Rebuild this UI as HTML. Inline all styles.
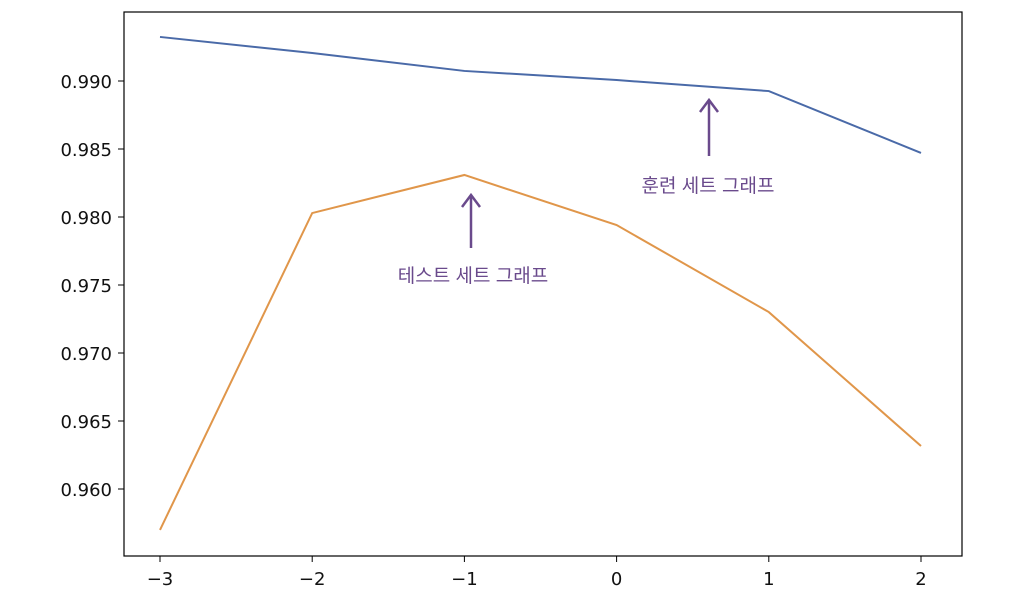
<!DOCTYPE html>
<html><head><meta charset="utf-8"><style>
body{margin:0;background:#fff;}
svg text{font-family:"DejaVu Sans","Liberation Sans",sans-serif;}
</style></head><body>
<svg id="chart" width="1024" height="609" xmlns="http://www.w3.org/2000/svg">
<rect x="0" y="0" width="1024" height="609" fill="#fff"/>
<g id="axes"></g>
<g id="lines"></g>
<g fill="#6a4a8c" stroke="#6a4a8c">
<line x1="709" y1="156" x2="709" y2="101" stroke-width="2.5"/>
<path d="M700 112 L709 100 L718 112" fill="none" stroke-width="2.5"/>
<text x="708" y="192" text-anchor="middle" font-size="19" stroke="none" style="font-family:'Liberation Sans','Noto Sans CJK KR',sans-serif">훈련 세트 그래프</text>
</g>
<g fill="#6a4a8c" stroke="#6a4a8c">
<line x1="471" y1="248" x2="471" y2="196" stroke-width="2.5"/>
<path d="M462 207 L471 195 L480 207" fill="none" stroke-width="2.5"/>
<text x="473" y="282" text-anchor="middle" font-size="19" stroke="none" style="font-family:'Liberation Sans','Noto Sans CJK KR',sans-serif">테스트 세트 그래프</text>
</g>
</svg>
<script>
const xValues=[-3,-2,-1,0,1,2];
const trainScores=[0.99324,0.99206,0.99074,0.99007,0.98926,0.98471];
const testScores=[0.95699,0.98029,0.98309,0.97941,0.97301,0.96316];
const yTicks=[0.960,0.965,0.970,0.975,0.980,0.985,0.990];
const xTicks=[-3,-2,-1,0,1,2];
const NS="http://www.w3.org/2000/svg";
const L=124,R=962,T=12,B=556;
function sx(v){return 160+(v+3)*152.2;}
function sy(v){return 81+(0.990-v)/0.005*68;}
function mk(tag,attrs,parent){const e=document.createElementNS(NS,tag);for(const k in attrs)e.setAttribute(k,attrs[k]);parent.appendChild(e);return e;}
const ax=document.getElementById('axes');
const frame=mk('rect',{x:L,y:T,width:R-L,height:B-T,fill:'none',stroke:'#000','stroke-width':1.2},ax);


yTicks.forEach(t=>{const y=sy(t);
mk('line',{x1:L-6,x2:L,y1:y,y2:y,stroke:'#000'},ax);
const tx=mk('text',{x:L-12,y:y+7,'text-anchor':'end','font-size':18,fill:'#111'},ax);tx.textContent=t.toFixed(3);

});
xTicks.forEach(t=>{const x=sx(t);
mk('line',{x1:x,x2:x,y1:B,y2:B+6,stroke:'#000'},ax);
const tx=mk('text',{x:x,y:B+29,'text-anchor':'middle','font-size':18,fill:'#111'},ax);tx.textContent=(t<0?'\u2212'+(-t):String(t));

});
const lg=document.getElementById('lines');
function line(vals,color,name){const p=mk('polyline',{points:xValues.map((x,i)=>sx(x)+','+sy(vals[i])).join(' '),fill:'none',stroke:color,'stroke-width':2},lg);

}
line(trainScores,'#4a6aa8','train-score-line');
line(testScores,'#e0964a','test-score-line');
</script>
</body></html>
